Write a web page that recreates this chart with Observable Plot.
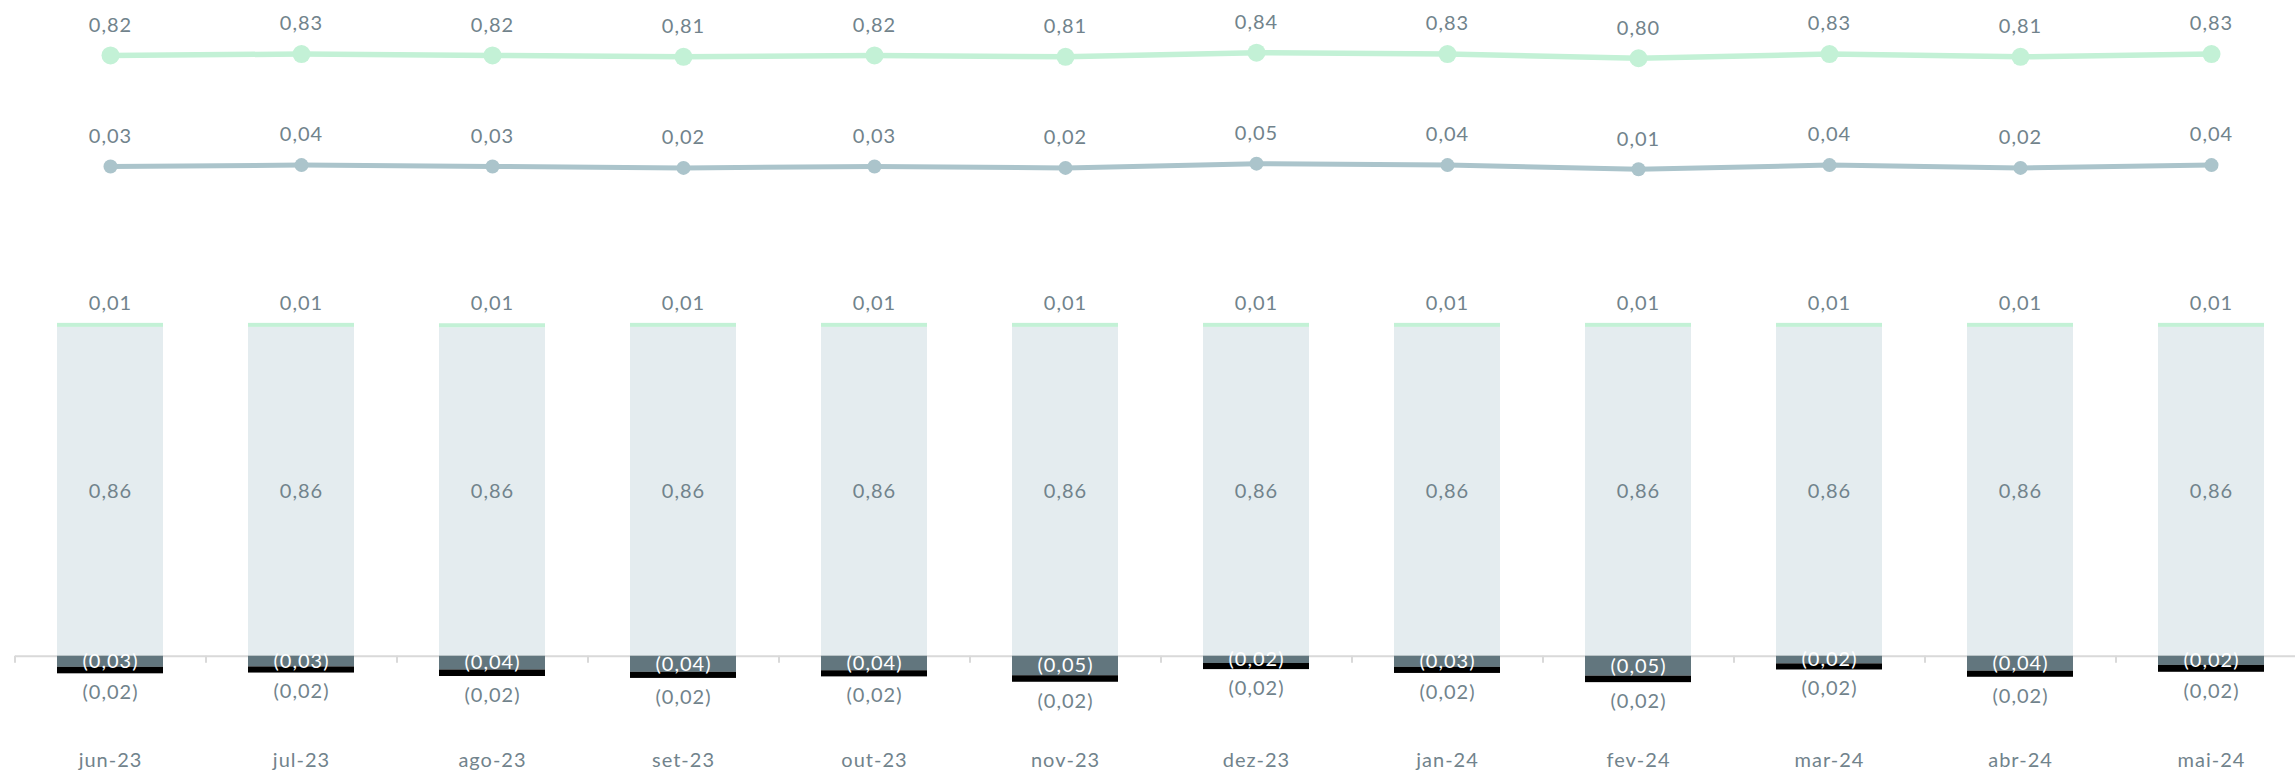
<!DOCTYPE html>
<html>
<head>
<meta charset="utf-8">
<script src="https://cdn.jsdelivr.net/npm/d3@7"></script>
<script src="https://cdn.jsdelivr.net/npm/@observablehq/plot@0.6"></script>
<style>
  html, body { margin: 0; padding: 0; background: #fff; overflow: hidden; }
  #chart svg { display: block; }
</style>
</head>
<body>
<div id="chart"></div>
<script>
// ---- data ----
const months = ["jun-23","jul-23","ago-23","set-23","out-23","nov-23","dez-23","jan-24","fev-24","mar-24","abr-24","mai-24"];
const lineTop = [0.82,0.83,0.82,0.81,0.82,0.81,0.84,0.83,0.80,0.83,0.81,0.83];
const lineBottom = [0.03,0.04,0.03,0.02,0.03,0.02,0.05,0.04,0.01,0.04,0.02,0.04];
const barMain = [0.857,0.857,0.856,0.857,0.857,0.857,0.857,0.857,0.857,0.857,0.857,0.857];
const barCap = [0.0105,0.0105,0.0105,0.0105,0.0105,0.0105,0.0105,0.0105,0.0105,0.0105,0.0105,0.0105];
const negGrey = [0.029,0.028,0.036,0.042,0.038,0.051,0.019,0.029,0.052,0.020,0.039,0.024];
const negBlack = [0.017,0.016,0.017,0.016,0.016,0.017,0.016,0.016,0.017,0.016,0.016,0.018];

// ---- style ----
const W = 2295;
const C = {
  green: "#c3f1d6", line2: "#abc4cb", light: "#e4ecef", grey: "#62767e",
  black: "#000000", label: "#71838c", axis: "#d9d9d9"
};
const FS = 20;
const font = {fontFamily: "Lato, 'DejaVu Sans', sans-serif", fontSize: FS + "px", fontWeight: 400, letterSpacing: "1px", background: "#fff"};
const mL = 15, mR = -12;
const padIn = 0.445;
const xOpts = {type: "band", domain: months, paddingInner: padIn, paddingOuter: padIn / 2, align: 0.5};
const fmt = v => v.toFixed(2).replace(".", ",");
const fmtNeg = v => "(" + Math.abs(v).toFixed(2).replace(".", ",") + ")";

const rows = months.map((m, i) => ({
  month: m, top: lineTop[i], bottom: lineBottom[i],
  main: barMain[i], cap: barCap[i], grey: negGrey[i], black: negBlack[i]
}));
const stackRows = rows.flatMap(d => [
  {month: d.month, series: "main", value: d.main},
  {month: d.month, series: "cap", value: d.cap},
  {month: d.month, series: "grey", value: -d.grey},
  {month: d.month, series: "black", value: -d.black}
]);

// ---- top plot: lines ----
const topPlot = Plot.plot({
  width: W, height: 200,
  marginLeft: mL, marginRight: mR, marginTop: 43.7, marginBottom: 29.8,
  x: {...xOpts, axis: null},
  y: {domain: [0, 0.9], axis: null},
  style: font,
  marks: [
    Plot.line(rows, {x: "month", y: "top", stroke: C.green, strokeWidth: 5.5}),
    Plot.dot(rows, {x: "month", y: "top", r: 9, fill: C.green}),
    Plot.text(rows, {x: "month", y: "top", text: d => fmt(d.top), dy: -30, fill: C.label, fontSize: FS}),
    Plot.line(rows, {x: "month", y: "bottom", stroke: C.line2, strokeWidth: 5}),
    Plot.dot(rows, {x: "month", y: "bottom", r: 7, fill: C.line2}),
    Plot.text(rows, {x: "month", y: "bottom", text: d => fmt(d.bottom), dy: -30, fill: C.label, fontSize: FS})
  ]
});

// ---- bottom plot: bars ----
const step = (W - mL - mR) / months.length;
const bottomPlot = Plot.plot({
  width: W, height: 573,
  marginLeft: mL, marginRight: mR, marginTop: 110.4, marginBottom: 40.6,
  x: {...xOpts, axis: null},
  y: {domain: [-0.2, 0.9], axis: null},
  color: {domain: ["main","cap","grey","black"], range: [C.light, C.green, C.grey, C.black]},
  style: font,
  marks: [
    Plot.ruleY([0], {stroke: C.axis, strokeWidth: 2}),
    Plot.ruleX(months, {x: d => d, y1: 0, y2: 0, insetBottom: -7, dx: -step / 2, stroke: C.axis, strokeWidth: 2}),
    Plot.barY(stackRows, {x: "month", y: "value", fill: "series", order: null}),
    Plot.text(rows, {x: "month", y: d => d.main + d.cap, text: d => fmt(d.cap), dy: -20, fill: C.label, fontSize: FS}),
    Plot.text(rows, {x: "month", y: d => d.main / 2, text: d => fmt(d.main), fill: C.label, fontSize: FS}),
    Plot.text(rows, {x: "month", y: d => -d.grey / 2, text: d => fmtNeg(d.grey), fill: "#ffffff", fontSize: FS}),
    Plot.text(rows, {x: "month", y: d => -(d.grey + d.black), text: d => fmtNeg(d.black), dy: 19, fill: C.label, fontSize: FS}),
    Plot.axisX({label: null, tickSize: 0, tickPadding: 20, fill: C.label, fontSize: FS})
  ]
});

const el = document.getElementById("chart");
el.append(topPlot, bottomPlot);
</script>
</body>
</html>
